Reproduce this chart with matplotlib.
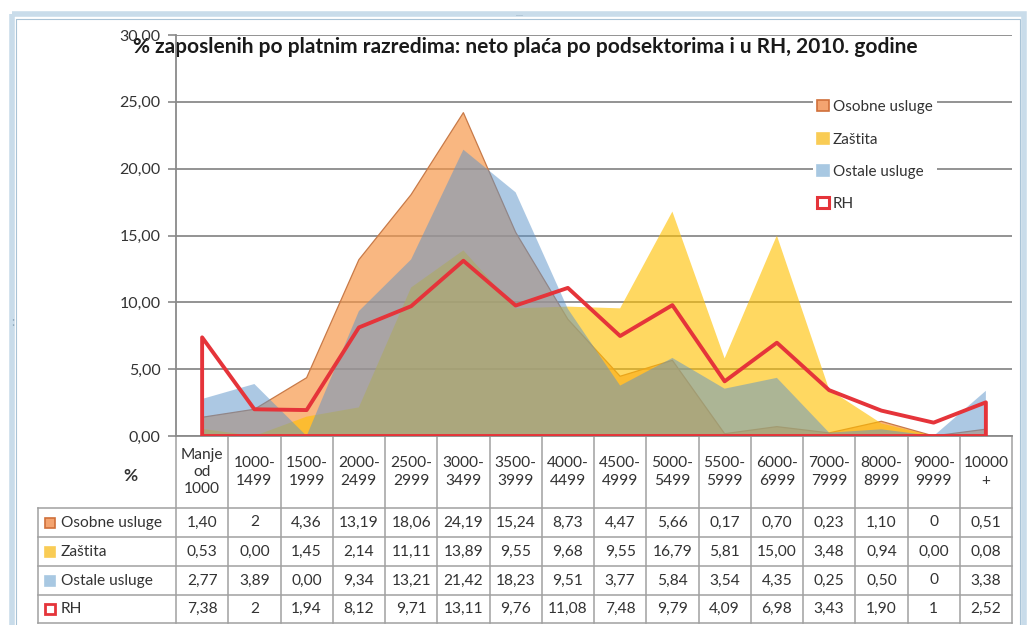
import matplotlib
matplotlib.use('Agg')
import matplotlib.pyplot as plt
from matplotlib.transforms import blended_transform_factory
from matplotlib.patches import Rectangle, Patch

plt.rcParams['font.family'] = ['Lato', 'DejaVu Sans']

categories = ["Manje\nod\n1000", "1000-\n1499", "1500-\n1999", "2000-\n2499", "2500-\n2999",
              "3000-\n3499", "3500-\n3999", "4000-\n4499", "4500-\n4999", "5000-\n5499",
              "5500-\n5999", "6000-\n6999", "7000-\n7999", "8000-\n8999", "9000-\n9999", "10000\n+"]

# table strings exactly as displayed; numeric values parsed from them
osobne_lbl = ["1,40", "2", "4,36", "13,19", "18,06", "24,19", "15,24", "8,73", "4,47", "5,66",
              "0,17", "0,70", "0,23", "1,10", "0", "0,51"]
zastita_lbl = ["0,53", "0,00", "1,45", "2,14", "11,11", "13,89", "9,55", "9,68", "9,55", "16,79",
               "5,81", "15,00", "3,48", "0,94", "0,00", "0,08"]
ostale_lbl = ["2,77", "3,89", "0,00", "9,34", "13,21", "21,42", "18,23", "9,51", "3,77", "5,84",
              "3,54", "4,35", "0,25", "0,50", "0", "3,38"]
rh_lbl = ["7,38", "2", "1,94", "8,12", "9,71", "13,11", "9,76", "11,08", "7,48", "9,79",
          "4,09", "6,98", "3,43", "1,90", "1", "2,52"]

series_names = ["Osobne usluge", "Zaštita", "Ostale usluge", "RH"]
y_ticks = [0, 5, 10, 15, 20, 25, 30]
title = "% zaposlenih po platnim razredima: neto plaća po podsektorima i u RH, 2010. godine"


def to_num(lbls):
    return [float(s.replace(',', '.')) for s in lbls]


osobne = to_num(osobne_lbl)
zastita = to_num(zastita_lbl)
ostale = to_num(ostale_lbl)
rh = to_num(rh_lbl)
x = list(range(len(categories)))

W, H = 1027, 625
fig = plt.figure(figsize=(W / 100, H / 100), dpi=100)
fig.patch.set_facecolor('white')

# pixel overlay for frame and table
ov = fig.add_axes([0, 0, 1, 1])
ov.set_xlim(0, W)
ov.set_ylim(H, 0)
ov.set_axis_off()

# Excel-like outer frame
ov.add_patch(Rectangle((12, 14), 1012, 640, facecolor='none', edgecolor='#C9DCEA', lw=4))
ov.add_patch(Rectangle((16, 19), 1004, 640, facecolor='none', edgecolor='#A9C3D6', lw=0.8))
ov.text(520, 14, "....", ha='center', va='center', fontsize=6, color='#8CA6BA')
ov.text(13, 322, ":", ha='center', va='center', fontsize=9, color='#8CA6BA')

# main axes
x0, x1, y0, y1 = 176, 1012, 436, 35
ax = fig.add_axes([x0 / W, 1 - y0 / H, (x1 - x0) / W, (y0 - y1) / H])
ax.set_facecolor('none')
ax.set_xlim(-0.5, len(categories) - 0.5)
ax.set_ylim(0, 30)

c_or = '#F79646'
c_ye = '#FFC000'
c_bl = '#5B93C9'
c_rh = '#E5343A'

ax.fill_between(x, osobne, 0, facecolor=c_or, alpha=0.68, edgecolor='none', zorder=2)
ax.plot(x, osobne, color='#C87A48', lw=0.9, zorder=2.1)
ax.fill_between(x, zastita, 0, facecolor=c_ye, alpha=0.62, edgecolor='none', zorder=3)
ax.fill_between(x, ostale, 0, facecolor=c_bl, alpha=0.5, edgecolor='none', zorder=4)
ax.fill_between(x, rh, 0, facecolor='none', edgecolor=c_rh, lw=2.8, zorder=5)

ax.set_yticks(y_ticks)
ax.set_yticklabels([f"{v:.2f}".replace('.', ',') for v in y_ticks], fontsize=11.5, color='#333333')
ax.yaxis.grid(True, color='#8A8A8A', lw=1.3, zorder=1)
ax.set_axisbelow(True)
ax.tick_params(axis='y', length=6, width=1.2, color='#8A8A8A', pad=5)
ax.set_xticks([])
for s in ['top', 'right']:
    ax.spines[s].set_visible(False)
ax.spines['left'].set_color('#8A8A8A')
ax.spines['left'].set_linewidth(1.3)
ax.spines['bottom'].set_color('#8A8A8A')
ax.spines['bottom'].set_linewidth(1.3)

# title
ov.text(525, 47, title, ha='center', va='center', fontsize=15, fontweight='bold', color='#1A1A1A')

# legend
handles = [Patch(facecolor='#F4A470', edgecolor='#D0703A', lw=1.2),
           Patch(facecolor='#F9CC55', edgecolor='#F9CC55', lw=1.2),
           Patch(facecolor='#A8C8E2', edgecolor='#A8C8E2', lw=1.2),
           Patch(facecolor='white', edgecolor=c_rh, lw=2.2)]
leg = ax.legend(handles, series_names, loc='upper left', bbox_to_anchor=(805 / W, 1 - 88 / H),
                bbox_transform=fig.transFigure, frameon=True, fontsize=11, handlelength=0.75,
                handleheight=0.75, handletextpad=0.25, labelspacing=1.2, borderpad=0.3,
                fancybox=False)
leg.get_frame().set_facecolor('white')
leg.get_frame().set_edgecolor('none')
leg.get_frame().set_alpha(1)
for t in leg.get_texts():
    t.set_color('#333333')

# data table
trans = blended_transform_factory(ax.transData, ov.transData)
gc = '#A0A0A0'
tbl_bottom = 623
rows_y = [508, 537, 566, 595, 623]
for i in range(len(categories) + 1):
    ov.plot([i - 0.5, i - 0.5], [y0, tbl_bottom], transform=trans, color=gc, lw=1.1, clip_on=False)
for yy in rows_y:
    ov.plot([38, x1], [yy, yy], color=gc, lw=1.1, clip_on=False)
ov.plot([38, 38], [rows_y[0], rows_y[-1]], color=gc, lw=1.1)

for i, lab in enumerate(categories):
    ov.text(i, 472, lab, transform=trans, ha='center', va='center', fontsize=11.2,
            color='#333333', linespacing=1.3)
ov.text(130, 476, "%", ha='center', va='center', fontsize=12.5, fontweight='bold', color='#333333')

row_lbls = [osobne_lbl, zastita_lbl, ostale_lbl, rh_lbl]
key_fc = ['#F4A470', '#F9CC55', '#A8C8E2', 'white']
key_ec = ['#D0703A', '#F9CC55', '#A8C8E2', c_rh]
key_lw = [1.2, 1.2, 1.2, 2.0]
for r in range(4):
    yc = (rows_y[r] + rows_y[r + 1]) / 2
    ov.add_patch(Rectangle((45, yc - 5), 10, 10, facecolor=key_fc[r], edgecolor=key_ec[r], lw=key_lw[r]))
    ov.text(61, yc, series_names[r], ha='left', va='center', fontsize=11.2, color='#333333')
    for i, s in enumerate(row_lbls[r]):
        ov.text(i, yc, s, transform=trans, ha='center', va='center', fontsize=11.2, color='#333333')

fig.savefig('out.png', dpi=100)
